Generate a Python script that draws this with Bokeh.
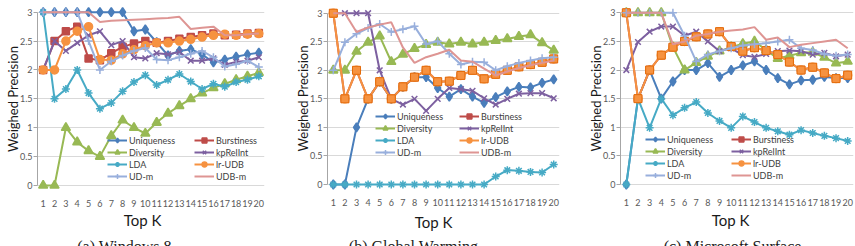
from bokeh.plotting import figure
from bokeh.layouts import row, column
from bokeh.models import FixedTicker, Legend, LegendItem, Label, Range1d
from bokeh.embed import file_html
from bokeh.resources import INLINE

# ---------------------------------------------------------------- data
top_k = list(range(1, 21))
y_ticks = [0, 0.5, 1, 1.5, 2, 2.5, 3]
y_tick_labels = ["0", "0.5", "1", "1.5", "2", "2.5", "3"]

series_names = ["Uniqueness", "Burstiness", "Diversity", "kpRelInt",
                "LDA", "lr-UDB", "UD-m", "UDB-m"]

# (a) Windows 8
win8_uniqueness = [3, 3, 3, 3, 3, 3, 3, 3, 2.67, 2.7, 2.48, 2.25, 2.33, 2.36, 2.27, 2.13, 2.18, 2.23, 2.27, 2.3]
win8_burstiness = [2.0, 2.5, 2.67, 2.75, 2.2, 2.17, 2.29, 2.4, 2.46, 2.5, 2.47, 2.5, 2.54, 2.57, 2.6, 2.63, 2.6, 2.61, 2.63, 2.64]
win8_diversity = [0, 0, 1.0, 0.75, 0.6, 0.5, 0.86, 1.13, 1.0, 0.9, 1.09, 1.25, 1.38, 1.5, 1.6, 1.69, 1.76, 1.83, 1.89, 1.95]
win8_kprelint = [2.0, 2.5, 2.33, 2.47, 2.6, 2.67, 2.43, 2.5, 2.22, 2.2, 2.29, 2.27, 2.31, 2.16, 2.16, 2.2, 2.09, 2.14, 2.16, 2.22]
win8_lda = [3.0, 1.5, 1.67, 2.0, 1.6, 1.33, 1.43, 1.63, 1.79, 1.91, 1.74, 1.83, 1.93, 1.8, 1.67, 1.76, 1.71, 1.79, 1.83, 1.89]
win8_lr_udb = [2.0, 2.0, 2.5, 2.67, 2.75, 2.18, 2.17, 2.28, 2.35, 2.42, 2.47, 2.47, 2.5, 2.53, 2.57, 2.6, 2.62, 2.6, 2.62, 2.63]
win8_ud_m = [3, 3, 3, 3, 2.5, 2.0, 2.15, 2.25, 2.33, 2.38, 2.18, 2.17, 2.22, 2.28, 2.33, 2.22, 2.06, 2.1, 2.16, 2.05]
win8_udb_m = [3, 3, 3, 3, 3, 2.83, 2.85, 2.86, 2.87, 2.88, 2.89, 2.9, 2.92, 2.71, 2.73, 2.75, 2.6, 2.6, 2.62, 2.63]

# (b) Global Warming
gw_uniqueness = [0, 0, 1.0, 1.5, 1.8, 1.5, 1.71, 1.88, 1.88, 1.69, 1.54, 1.67, 1.54, 1.43, 1.53, 1.63, 1.71, 1.7, 1.78, 1.84]
gw_burstiness = [3.0, 1.5, 2.0, 1.5, 1.8, 1.5, 1.71, 1.88, 2.0, 1.8, 1.81, 1.91, 2.0, 1.85, 1.93, 2.0, 2.06, 2.1, 2.14, 2.2]
gw_diversity = [2.0, 2.0, 2.33, 2.49, 2.6, 2.15, 2.28, 2.38, 2.45, 2.49, 2.46, 2.49, 2.46, 2.49, 2.52, 2.55, 2.59, 2.62, 2.48, 2.35]
gw_kprelint = [3, 3, 3, 3, 2.0, 1.5, 1.4, 1.5, 1.29, 1.5, 1.69, 1.67, 1.64, 1.51, 1.4, 1.5, 1.59, 1.6, 1.6, 1.51]
gw_lda = [0, 0, 0, 0, 0, 0, 0, 0, 0, 0, 0, 0, 0, 0, 0.14, 0.25, 0.24, 0.22, 0.21, 0.35]
gw_lr_udb = [3.0, 1.5, 2.0, 1.5, 1.8, 1.5, 1.71, 1.88, 2.0, 1.8, 1.81, 1.91, 2.0, 1.85, 1.93, 2.0, 2.06, 2.1, 2.14, 2.2]
gw_ud_m = [2.0, 2.49, 2.64, 2.74, 2.81, 2.67, 2.72, 2.77, 2.46, 2.51, 2.29, 2.1, 2.15, 2.14, 2.0, 2.07, 2.13, 2.17, 2.21, 2.23]
gw_udb_m = [3, 3, 2.67, 2.75, 2.8, 2.84, 2.4, 2.13, 2.23, 2.29, 2.36, 2.17, 2.15, 2.03, 1.91, 1.98, 2.04, 2.09, 2.13, 2.17]

# (c) Microsoft Surface
ms_uniqueness = [0, 1.5, 2.0, 1.5, 1.8, 2.0, 2.0, 2.12, 1.88, 2.0, 2.08, 2.15, 2.0, 1.86, 1.75, 1.82, 1.83, 1.88, 1.86, 1.86]
ms_burstiness = [3.0, 1.5, 2.0, 2.26, 2.4, 2.5, 2.58, 2.63, 2.67, 2.41, 2.33, 2.39, 2.34, 2.27, 2.14, 2.0, 2.05, 1.95, 1.85, 1.91]
ms_diversity = [3, 3, 3, 3, 2.4, 2.0, 2.13, 2.24, 2.33, 2.4, 2.46, 2.5, 2.35, 2.2, 2.25, 2.3, 2.31, 2.22, 2.12, 2.15]
ms_kprelint = [2.0, 2.49, 2.67, 2.76, 2.76, 2.6, 2.67, 2.5, 2.33, 2.38, 2.26, 2.23, 2.28, 2.33, 2.34, 2.33, 2.27, 2.3, 2.24, 2.27]
ms_lda = [0, 1.5, 0.99, 1.5, 1.21, 1.34, 1.44, 1.25, 1.11, 0.99, 1.19, 1.09, 0.99, 0.93, 0.87, 0.95, 0.9, 0.85, 0.81, 0.76]
ms_lr_udb = [3.0, 1.5, 2.0, 2.26, 2.4, 2.5, 2.58, 2.63, 2.67, 2.41, 2.33, 2.39, 2.34, 2.27, 2.14, 2.0, 2.05, 1.95, 1.85, 1.91]
ms_ud_m = [3, 3, 3, 3, 3, 2.6, 2.15, 2.27, 2.33, 2.38, 2.43, 2.45, 2.47, 2.5, 2.53, 2.38, 2.35, 2.28, 2.25, 2.27]
ms_udb_m = [3, 3, 3, 3, 2.45, 2.5, 2.6, 2.63, 2.67, 2.69, 2.71, 2.75, 2.53, 2.57, 2.4, 2.44, 2.47, 2.5, 2.53, 2.38]

panel_captions = ["(a) Windows 8", "(b) Global Warming", "(c) Microsoft Surface"]
x_title = "Top K"
y_title = "Weighed Precision"

# ---------------------------------------------------------------- styles
STYLE = {
    "Uniqueness": dict(color="#4A7EBB", marker="diamond", size=9),
    "Burstiness": dict(color="#BE4B48", marker="square", size=7),
    "Diversity": dict(color="#98B954", marker="triangle", size=9),
    "kpRelInt": dict(color="#7D60A0", marker="x", size=8),
    "LDA": dict(color="#46AAC5", marker="asterisk", size=8),
    "lr-UDB": dict(color="#F69240", marker="circle", size=8),
    "UD-m": dict(color="#98AFDC", marker="cross", size=8),
    "UDB-m": dict(color="#DE9593", marker=None, size=0),
}
FONT = "Lato"
TEXT_GREY = "#404040"
TICK_GREY = "#595959"
TITLE_COLOR = "#1A1A1A"
GRID_GREY = "#D9D9D9"
AXIS_GREY = "#A6A6A6"

W, H = 855, 246
ROW_TOP_H = 205          # height of the chart row; titles/captions strip below it
TOP_PAD = 5
BOTTOM_PAD = 7
ROW_H = 12

# horizontal layout, absolute pixels across the strip
PANELS = [
    dict(x0=0, fig_w=290, left=37, right=264, y3=11.7, y0=185.0,
         leg1=107, leg2=194, leg_row=176.0, xtitle=(142, 215), caption=124),
    dict(x0=290, fig_w=290, left=327, right=559, y3=12.7, y0=184.0,
         leg1=375, leg2=459, leg_row=152.3, xtitle=(433, 217), caption=413),
    dict(x0=580, fig_w=275, left=620, right=853, y3=12.3, y0=184.0,
         leg1=645, leg2=731, leg_row=175.3, xtitle=(730, 215), caption=732),
]

DATASETS = [
    [win8_uniqueness, win8_burstiness, win8_diversity, win8_kprelint,
     win8_lda, win8_lr_udb, win8_ud_m, win8_udb_m],
    [gw_uniqueness, gw_burstiness, gw_diversity, gw_kprelint,
     gw_lda, gw_lr_udb, gw_ud_m, gw_udb_m],
    [ms_uniqueness, ms_burstiness, ms_diversity, ms_kprelint,
     ms_lda, ms_lr_udb, ms_ud_m, ms_udb_m],
]


def make_panel(spec, series, square_lr_markers):
    left_border = spec["left"] - spec["x0"]
    frame_w = spec["right"] - spec["left"]
    right_border = spec["fig_w"] - left_border - frame_w
    frame_bottom = spec["y0"] + BOTTOM_PAD
    frame_h = int(round(frame_bottom - TOP_PAD))
    bottom_border = ROW_TOP_H - TOP_PAD - frame_h
    px_per_unit = (spec["y0"] - spec["y3"]) / 3.0
    y_lo = -BOTTOM_PAD / px_per_unit
    y_hi = 3 + (spec["y3"] - TOP_PAD) / px_per_unit

    p = figure(frame_width=frame_w, frame_height=frame_h,
               min_border_left=left_border, min_border_right=right_border,
               min_border_top=TOP_PAD, min_border_bottom=bottom_border,
               x_range=Range1d(0.5, 20.5), y_range=Range1d(y_lo, y_hi),
               output_backend="svg", toolbar_location=None,
               background_fill_color="white", border_fill_color="white")
    p.outline_line_color = None

    # axes
    p.xaxis.ticker = FixedTicker(ticks=top_k)
    p.xaxis.axis_line_color = None
    p.xaxis.major_tick_line_color = None
    p.xaxis.minor_tick_line_color = None
    p.xaxis.major_label_standoff = 1
    p.yaxis.ticker = FixedTicker(ticks=y_ticks)
    p.yaxis.major_label_overrides = dict(zip(y_ticks, y_tick_labels))
    p.yaxis.bounds = (0, 3)
    p.yaxis.axis_line_color = AXIS_GREY
    p.yaxis.major_tick_line_color = AXIS_GREY
    p.yaxis.major_tick_out = 4
    p.yaxis.major_tick_in = 0
    p.yaxis.minor_tick_line_color = None
    p.yaxis.major_label_standoff = 1
    p.yaxis.axis_label = y_title
    p.yaxis.axis_label_standoff = -4
    p.yaxis.axis_label_text_font = FONT
    p.yaxis.axis_label_text_font_size = "13px"
    p.yaxis.axis_label_text_font_style = "normal"
    p.yaxis.axis_label_text_color = TITLE_COLOR
    for ax in (p.xaxis, p.yaxis):
        ax.major_label_text_font = FONT
        ax.major_label_text_font_size = "9px"
        ax.major_label_text_color = TICK_GREY

    p.xgrid.visible = False
    p.ygrid.ticker = FixedTicker(ticks=y_ticks)
    p.ygrid.grid_line_color = GRID_GREY
    p.ygrid.grid_line_width = 1

    # series, drawn in legend order so later series sit on top
    items = {}
    for name, values in zip(series_names, series):
        st = STYLE[name]
        rs = [p.line(top_k, values, line_color=st["color"], line_width=2)]
        if st["marker"] is not None:
            rs.append(p.scatter(top_k, values, marker=st["marker"], size=st["size"],
                                fill_color=st["color"], line_color=st["color"],
                                line_width=1.5))
            if name == "lr-UDB" and square_lr_markers:
                p.scatter(top_k, values, marker="square", size=8,
                          fill_color=st["color"], line_color="#E46C0A", line_width=1)
        items[name] = LegendItem(label=name, renderers=rs)

    # two-column legend
    def legend(names, x_abs):
        lg = Legend(items=[items[n] for n in names],
                    location=(x_abs - spec["left"], frame_bottom - (spec["leg_row"] + ROW_H / 2)),
                    orientation="vertical", padding=0, margin=0, spacing=0,
                    glyph_width=20, glyph_height=ROW_H, label_height=ROW_H,
                    label_standoff=2, label_text_font=FONT,
                    label_text_font_size="9px", label_text_color=TEXT_GREY,
                    background_fill_alpha=0, border_line_alpha=0)
        p.add_layout(lg, "center")

    legend(series_names[0::2], spec["leg1"])
    legend(series_names[1::2], spec["leg2"])
    return p


# bottom strip: x titles and panel captions
strip_h = H - ROW_TOP_H
strip = figure(width=W, height=strip_h, x_range=Range1d(0, W), y_range=Range1d(0, strip_h),
               min_border=0, x_axis_location=None, y_axis_location=None,
               output_backend="svg", toolbar_location=None,
               background_fill_color="white", border_fill_color="white")
strip.grid.visible = False
strip.outline_line_color = None
for spec, cap in zip(PANELS, panel_captions):
    xx, xy = spec["xtitle"]
    strip.add_layout(Label(x=xx, y=H - xy, text=x_title, text_align="center",
                           text_baseline="alphabetic", text_font=FONT,
                           text_font_size="15px", text_color=TITLE_COLOR))
    strip.add_layout(Label(x=spec["caption"], y=H - 233, text=cap,
                           text_align="center", text_baseline="top",
                           text_font="Liberation Serif", text_font_size="16px",
                           text_color=TITLE_COLOR))

panels = [make_panel(spec, data, i > 0)
          for i, (spec, data) in enumerate(zip(PANELS, DATASETS))]

layout = column(row(*panels, spacing=0), strip, spacing=0)

open("out.html", "w").write(file_html(layout, INLINE))
